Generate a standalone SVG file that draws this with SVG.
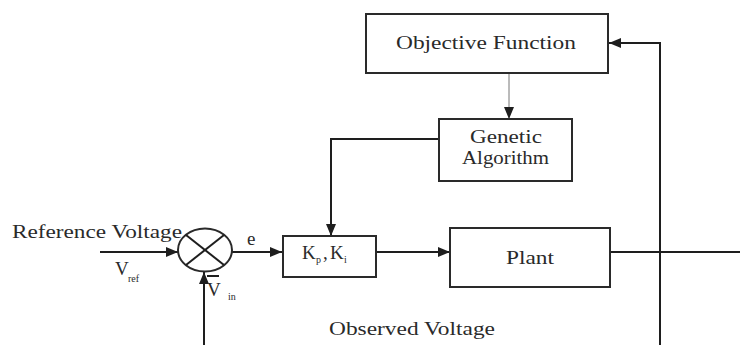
<svg xmlns="http://www.w3.org/2000/svg" width="740" height="345" viewBox="0 0 740 345">
  <style>
    .box { fill: #ffffff; stroke: #2a2a2a; stroke-width: 2; }
    .wire { fill: none; stroke: #1e1e1e; stroke-width: 2; }
    .thin { fill: none; stroke: #777777; stroke-width: 1; }
    .lbl { font-family: "Liberation Serif", "Times New Roman", serif; font-size: 19px; fill: #2a2a2a; }
    .sub { font-family: "Liberation Serif", "Times New Roman", serif; font-size: 10px; fill: #2a2a2a; }
  </style>
  <defs>
    <marker id="arrow" viewBox="0 0 12 10" refX="12" refY="5" markerWidth="12" markerHeight="10" markerUnits="userSpaceOnUse" orient="auto">
      <path d="M0,0 L12,5 L0,10 Z" fill="#1e1e1e"/>
    </marker>
  </defs>

  <rect width="740" height="345" fill="#ffffff"/>

  <!-- signal lines -->
  <g id="connectors">
    <line class="wire" x1="100" y1="252" x2="178" y2="252" marker-end="url(#arrow)"/>
    <line class="wire" x1="204" y1="345" x2="204" y2="272" marker-end="url(#arrow)"/>
    <line class="wire" x1="232" y1="252" x2="282" y2="252" marker-end="url(#arrow)"/>
    <line class="wire" x1="376" y1="252" x2="450" y2="252" marker-end="url(#arrow)"/>
    <line class="wire" x1="610" y1="252" x2="740" y2="252"/>
    <polyline class="wire" points="660,345 660,43 609,43" marker-end="url(#arrow)"/>
    <polyline class="wire" points="439,139 331,139 331,236" marker-end="url(#arrow)"/>
    <line class="thin" x1="509" y1="73" x2="509" y2="119" marker-end="url(#arrow)"/>
  </g>

  <!-- summing junction -->
  <g id="sum">
    <ellipse class="box" cx="205" cy="250" rx="27" ry="21.5"/>
    <line class="wire" x1="186" y1="235" x2="224" y2="265"/>
    <line class="wire" x1="186" y1="265" x2="224" y2="235"/>
  </g>

  <g id="objective">
    <rect class="box" x="366" y="14" width="242" height="59"/>
    <text class="lbl" x="396" y="49" textLength="180" lengthAdjust="spacingAndGlyphs">Objective Function</text>
  </g>

  <g id="ga">
    <rect class="box" x="439" y="119" width="133" height="62"/>
    <text class="lbl" x="470" y="143" textLength="72" lengthAdjust="spacingAndGlyphs">Genetic</text>
    <text class="lbl" x="462" y="164" textLength="87" lengthAdjust="spacingAndGlyphs">Algorithm</text>
  </g>

  <g id="controller">
    <rect class="box" x="283" y="236" width="93" height="41"/>
    <text class="lbl" x="302" y="259">K</text>
    <text class="sub" x="316" y="263">p</text>
    <text class="lbl" x="323" y="259">,</text>
    <text class="lbl" x="330" y="259">K</text>
    <text class="sub" x="344" y="263">i</text>
  </g>

  <g id="plant">
    <rect class="box" x="450" y="228" width="160" height="59"/>
    <text class="lbl" x="506" y="264" textLength="48" lengthAdjust="spacingAndGlyphs">Plant</text>
  </g>

  <g id="labels">
    <text class="lbl" x="12" y="238" textLength="170" lengthAdjust="spacingAndGlyphs">Reference Voltage</text>
    <text class="lbl" x="115" y="275">V</text>
    <text class="sub" x="128" y="282">ref</text>
    <text class="lbl" x="247" y="245">e</text>
    <line x1="207" y1="276" x2="219" y2="276" stroke="#1e1e1e" stroke-width="2"/>
    <text class="lbl" x="207" y="296">V</text>
    <text class="sub" x="228" y="300">in</text>
    <text class="lbl" x="329" y="335" textLength="166" lengthAdjust="spacingAndGlyphs">Observed Voltage</text>
  </g>
</svg>
